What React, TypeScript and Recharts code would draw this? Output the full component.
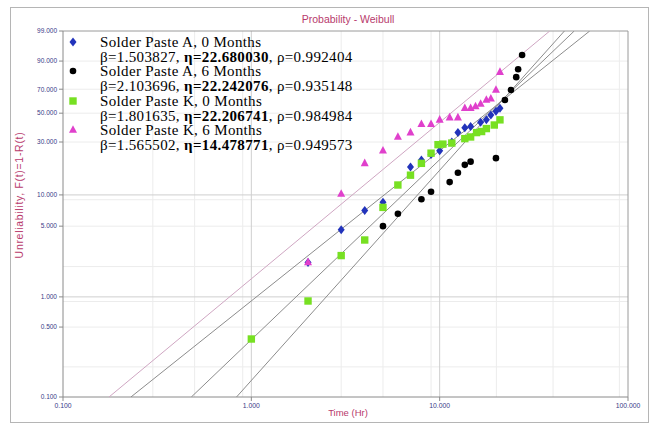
import React from "react";
import { ScatterChart, Scatter, XAxis, YAxis, CartesianGrid } from "recharts";

// time (Hr) / unreliability (%)
const xTicks = [0.1, 1, 10, 100];
const yTicks = [0.1, 0.5, 1, 5, 10, 30, 50, 70, 90, 99];
const xMinor = [0.2, 0.3, 0.4, 0.5, 0.6, 0.7, 0.8, 0.9, 2, 3, 4, 5, 6, 7, 8, 9, 20, 30, 40, 50, 60, 70, 80, 90];
const yMinor = [0.2, 0.3, 0.4, 0.5, 0.6, 0.7, 0.8, 0.9, 2, 3, 4, 5, 6, 7, 8, 9, 20, 30, 40, 50, 60, 70, 80, 90];
const xMajor = [1, 10];
const yMajor = [1, 10];

const a0Time = [2, 3, 4, 5, 7, 8, 9, 10, 11.6, 12.5, 13.6, 14.6, 16.5, 17.7, 18.7, 19.9, 20.9];
const a0F = [2.2, 4.6, 7.1, 8.5, 18.2, 21, 23.5, 25.3, 30, 35.8, 39, 40, 43, 44.8, 48.5, 51.5, 54];

const a6Time = [5, 6, 8, 9, 11.3, 12.5, 13.6, 14.6, 19.9, 22.2, 23.9, 25.5, 26.1, 27.4];
const a6F = [5, 6.6, 9.1, 10.7, 13.2, 16.1, 19, 20.3, 21.8, 60.9, 69.4, 79.6, 85.2, 92.9];

const k0Time = [1, 2, 3, 4, 5, 6, 7, 8, 9, 9.8, 10.4, 11.6, 13.6, 14.6, 15.7, 16.7, 17.7, 19.5, 20.9];
const k0F = [0.38, 0.91, 2.57, 3.66, 7.6, 12.4, 15.3, 19.6, 24.1, 28.5, 28.8, 29.4, 32, 33, 35.8, 36.5, 38.5, 41, 44.8];

const k6Time = [2, 3, 4, 5, 6, 7, 8, 9, 10, 11.3, 12.5, 13.6, 14.6, 15.5, 16.5, 17.7, 18.7, 19.9, 20.9];
const k6F = [2.2, 10.2, 19.6, 25.3, 33, 35.8, 41.5, 41.5, 44.8, 46.5, 46.5, 54, 54, 55.5, 57.5, 60.9, 62, 69.4, 83.2];

// fitted lines, ends at 0.1% and 99%
const a0FitTime = [0.2294, 62.62];
const a6FitTime = [0.8343, 45.97];
const k0FitTime = [0.4802, 51.83];
const k6FitTime = [0.1755, 38.41];
const fitF = [0.1, 99];

const wb = (f: number) => Math.log(-Math.log(1 - f / 100));
const toPoints = (ts: number[], fs: number[]) => ts.map((t, i) => ({ t, w: wb(fs[i]) }));

const yTickVals = yTicks.map(wb);
const yLabel = (v: number) => {
  let best = 0;
  yTickVals.forEach((tv, i) => {
    if (Math.abs(tv - v) < Math.abs(yTickVals[best] - v)) best = i;
  });
  return yTicks[best].toFixed(3);
};

const BLUE = "#2233bb";
const GREEN = "#77e022";
const PINK = "#e040cc";
const SANS = "Arial, 'Liberation Sans', sans-serif";

const Diamond = (p: any) => (
  <polygon points={`${p.cx},${p.cy - 4.5} ${p.cx + 3.5},${p.cy} ${p.cx},${p.cy + 4.5} ${p.cx - 3.5},${p.cy}`} fill={BLUE} />
);
const Dot = (p: any) => <circle cx={p.cx} cy={p.cy} r={3.3} fill="#000" />;
const Square = (p: any) => <rect x={p.cx - 3.7} y={p.cy - 3.7} width={7.4} height={7.4} fill={GREEN} />;
const Tri = (p: any) => (
  <polygon points={`${p.cx},${p.cy - 4.8} ${p.cx + 4},${p.cy + 2.8} ${p.cx - 4},${p.cy + 2.8}`} fill={PINK} />
);
const NoShape = () => <g />;

const legendRows = [
  { name: "Solder Paste A, 0 Months", beta: "1.503827", eta: "22.680030", rho: "0.992404", mark: "d" },
  { name: "Solder Paste A, 6 Months", beta: "2.103696", eta: "22.242076", rho: "0.935148", mark: "c" },
  { name: "Solder Paste K, 0 Months", beta: "1.801635", eta: "22.206741", rho: "0.984984", mark: "s" },
  { name: "Solder Paste K, 6 Months", beta: "1.565502", eta: "14.478771", rho: "0.949573", mark: "t" },
];

function LegendMark({ kind }: { kind: string }) {
  return (
    <svg width={12} height={12} style={{ position: "absolute", left: 3, top: 1 }}>
      {kind === "d" && <Diamond cx={6} cy={6} />}
      {kind === "c" && <Dot cx={6} cy={6} />}
      {kind === "s" && <Square cx={6} cy={6} />}
      {kind === "t" && <Tri cx={6} cy={6} />}
    </svg>
  );
}

export default function App() {
  const red = "#b83a6c";
  return (
    <div style={{ position: "absolute", left: 0, top: 0, width: 654, height: 428, background: "#fff" }}>
      <div style={{ position: "absolute", left: 10, top: 7, width: 637, height: 414, border: "1px solid #b5b5b5" }} />
      <div
        style={{
          position: "absolute",
          left: 0,
          width: 654,
          top: 13,
          textAlign: "center",
          paddingLeft: 42,
          boxSizing: "border-box",
          fontFamily: SANS,
          fontSize: 10.5,
          lineHeight: "12px",
          color: red,
        }}
      >
        Probability - Weibull
      </div>
      <ScatterChart width={654} height={428} margin={{ top: 31, right: 26, bottom: 11, left: 13 }}>
        <CartesianGrid stroke="#ececec" verticalValues={xMinor} horizontalValues={yMinor.map(wb)} />
        <CartesianGrid stroke="#cfcfcf" verticalValues={xMajor} horizontalValues={yMajor.map(wb)} />
        <CartesianGrid stroke="#9a9a9a" verticalValues={[100]} horizontalValues={[wb(99)]} />
        <XAxis
          type="number"
          dataKey="t"
          scale="log"
          domain={[0.1, 100]}
          ticks={xTicks}
          allowDataOverflow
          height={20}
          tickSize={4}
          stroke="#8a8a8a"
          tick={{ fontSize: 6.8, fill: "#3a3a88", fontFamily: SANS }}
          tickFormatter={(v: number) => v.toFixed(3)}
        />
        <YAxis
          type="number"
          dataKey="w"
          domain={[wb(0.1), wb(99)]}
          ticks={yTickVals}
          allowDataOverflow
          width={50}
          tickSize={4}
          stroke="#8a8a8a"
          tick={{ fontSize: 6.5, fill: "#3a3a88", fontFamily: SANS }}
          tickFormatter={yLabel}
        />
        <Scatter data={toPoints(k6FitTime, fitF)} line={{ stroke: "#cfa6c2", strokeWidth: 1 }} shape={NoShape} isAnimationActive={false} />
        <Scatter data={toPoints(a0FitTime, fitF)} line={{ stroke: "#8c8c8c", strokeWidth: 1 }} shape={NoShape} isAnimationActive={false} />
        <Scatter data={toPoints(k0FitTime, fitF)} line={{ stroke: "#8c8c8c", strokeWidth: 1 }} shape={NoShape} isAnimationActive={false} />
        <Scatter data={toPoints(a6FitTime, fitF)} line={{ stroke: "#8c8c8c", strokeWidth: 1 }} shape={NoShape} isAnimationActive={false} />
        <Scatter data={toPoints(a6Time, a6F)} shape={Dot} isAnimationActive={false} />
        <Scatter data={toPoints(a0Time, a0F)} shape={Diamond} isAnimationActive={false} />
        <Scatter data={toPoints(k0Time, k0F)} shape={Square} isAnimationActive={false} />
        <Scatter data={toPoints(k6Time, k6F)} shape={Tri} isAnimationActive={false} />
      </ScatterChart>
      <div
        style={{
          position: "absolute",
          left: 0,
          width: 654,
          top: 407,
          textAlign: "center",
          paddingLeft: 42,
          boxSizing: "border-box",
          fontFamily: SANS,
          fontSize: 9.5,
          lineHeight: "11px",
          color: red,
        }}
      >
        Time (Hr)
      </div>
      <div
        style={{
          position: "absolute",
          left: 19,
          top: 195,
          transform: "translate(-50%, -50%) rotate(-90deg)",
          whiteSpace: "nowrap",
          fontFamily: SANS,
          fontSize: 10.5,
          letterSpacing: 0.7,
          lineHeight: "12px",
          color: red,
        }}
      >
        Unreliability, F(t)=1-R(t)
      </div>
      <div
        style={{
          position: "absolute",
          left: 64,
          top: 35,
          fontFamily: "'Liberation Serif', 'Times New Roman', serif",
          fontSize: 15,
          letterSpacing: 0.35,
          lineHeight: "14.7px",
          color: "#000",
        }}
      >
        {legendRows.map((r) => (
          <div key={r.name} style={{ position: "relative", paddingLeft: 36 }}>
            <LegendMark kind={r.mark} />
            <div>{r.name}</div>
            <div style={{ whiteSpace: "nowrap" }}>
              β={r.beta}, <b>η={r.eta}</b>, ρ={r.rho}
            </div>
          </div>
        ))}
      </div>
    </div>
  );
}
